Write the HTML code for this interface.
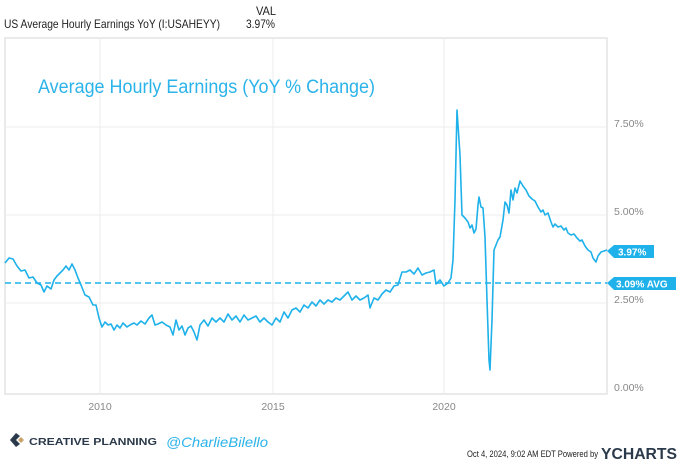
<!DOCTYPE html>
<html><head><meta charset="utf-8"><style>
body{margin:0;background:#fff;width:680px;height:460px;overflow:hidden;font-family:"Liberation Sans",sans-serif}
</style></head><body>
<svg width="680" height="460" xmlns="http://www.w3.org/2000/svg" font-family="Liberation Sans, sans-serif">
<text x="256" y="15" font-size="12" fill="#222" textLength="20" lengthAdjust="spacingAndGlyphs">VAL</text>
<text x="4" y="28" font-size="12" fill="#222" textLength="216" lengthAdjust="spacingAndGlyphs">US Average Hourly Earnings YoY (I:USAHEYY)</text>
<text x="246" y="28" font-size="12" fill="#222" textLength="29" lengthAdjust="spacingAndGlyphs">3.97%</text>
<rect x="5" y="38" width="602" height="356" fill="none" stroke="#e3e3e3" stroke-width="1.5"/>
<g stroke="#ececec" stroke-width="1">
<line x1="100" y1="38" x2="100" y2="394"/><line x1="273" y1="38" x2="273" y2="394"/><line x1="444" y1="38" x2="444" y2="394"/>
<line x1="5" y1="127" x2="607" y2="127"/><line x1="5" y1="215" x2="607" y2="215"/><line x1="5" y1="303" x2="607" y2="303"/>
</g>
<text x="38" y="93" font-size="19" fill="#2bb3ea" textLength="337" lengthAdjust="spacingAndGlyphs">Average Hourly Earnings (YoY % Change)</text>
<g font-size="10.5" fill="#888">
<text x="614" y="127">7.50%</text><text x="614" y="215">5.00%</text><text x="614" y="303">2.50%</text><text x="614" y="391">0.00%</text>
<text x="100" y="410" text-anchor="middle">2010</text><text x="273" y="410" text-anchor="middle">2015</text><text x="444" y="410" text-anchor="middle">2020</text>
</g>
<line x1="5" y1="283" x2="607" y2="283" stroke="#1eb1ea" stroke-width="1.6" stroke-dasharray="6,4"/>
<polyline fill="none" stroke="#1eb1ea" stroke-width="1.6" stroke-linejoin="round" points="5,263 9,258 13,259 17,266 21,271 25,270 29,278 33,277 37,283 41,285 44,292 47,286 51,289 54,280 57,276 60,273 63,270 66,266 69,270 72,264 75,270 78,278 81,285 85,295 89,297 93,305 96,305 99,318 102,327 105,322 108,325 111,324 114,330 117,325 120,328 123,323 127,327 130,325 134,323 137,325 141,321 145,324 149,318 152,315 155,325 158,324 162,322 166,325 170,327 173,335 176,320 179,330 182,326 185,335 188,328 191,326 194,332 197,340 200,325 204,320 208,326 212,318 216,322 220,318 224,322 228,314 232,320 236,316 240,322 244,315 248,320 252,318 256,316 260,322 264,318 268,322 272,325 276,318 280,322 284,312 288,318 292,310 296,308 300,312 304,305 308,308 312,302 316,306 320,300 324,304 328,300 332,302 336,298 340,300 344,296 348,292 352,300 356,296 360,300 364,298 368,295 370,308 374,298 378,300 382,294 386,290 390,292 394,286 398,285 402,272 406,272 410,270 414,274 418,268 422,275 426,273 430,272 434,270 436,284 440,280 444,286 448,283 451,278 453,260 455,200 457,110 460,155 462,215 465,218 468,222 470,228 472,225 474,233 476,229 478,205 479,197 481,207 483,208 485,237 487,300 489,360 490,370 492,320 494,250 496,245 498,240 500,237 503,220 505,202 507,205 509,213 511,190 513,200 515,188 517,193 520,181 523,186 526,190 529,196 532,199 535,201 538,207 541,212 543,210 545,215 548,213 551,222 553,227 555,224 558,227 561,226 564,230 566,228 568,233 571,235 574,234 577,238 580,241 582,240 585,246 588,250 591,252 593,258 596,262 598,256 601,252 604,251 607,250"/>
<path d="M607,251 L614,245 L654,245 L654,258 L614,258 Z" fill="#1eb1ea"/>
<text x="618" y="255.5" font-size="10" font-weight="bold" fill="#fff">3.97%</text>
<path d="M607,283 L614,277 L676,277 L676,290 L614,290 Z" fill="#1eb1ea"/>
<text x="616" y="287.5" font-size="10" font-weight="bold" fill="#fff">3.09% AVG</text>
<path d="M16,433 L10,440 L16,447 L20,444 L16,440 L20,436 Z" fill="#2b3a4a"/>
<path d="M18,440 L21,437 L24,440 L21,443 Z" fill="#c9a46a"/>
<text x="29" y="445" font-size="10" font-weight="bold" fill="#2b3a4a" textLength="128" lengthAdjust="spacingAndGlyphs">CREATIVE PLANNING</text>
<text x="166" y="447" font-size="14" font-style="italic" fill="#2bb3ea" textLength="102" lengthAdjust="spacingAndGlyphs">@CharlieBilello</text>
<text x="467" y="457" font-size="9" fill="#222" textLength="131" lengthAdjust="spacingAndGlyphs">Oct 4, 2024, 9:02 AM EDT Powered by</text>
<text x="601" y="459" font-size="16" font-weight="bold" fill="#2b3a4a" textLength="76" lengthAdjust="spacingAndGlyphs">YCHARTS</text>
</svg>
</body></html>
